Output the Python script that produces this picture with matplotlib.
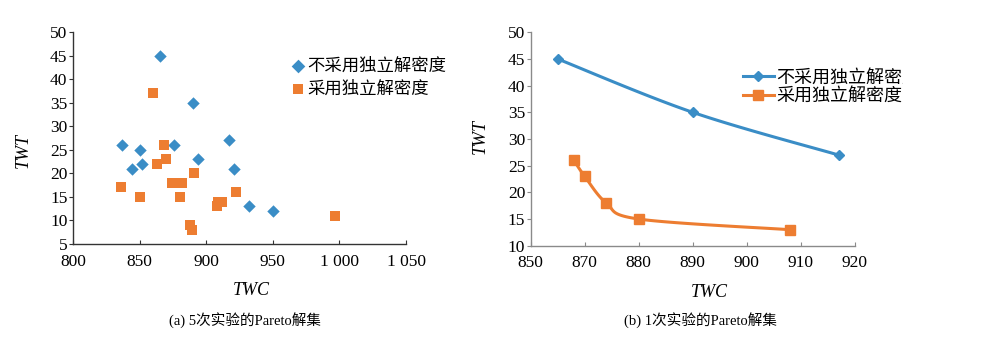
import numpy as np
import matplotlib
matplotlib.use("Agg")
import matplotlib.pyplot as plt
from matplotlib.transforms import Bbox

plt.rcParams["font.family"] = ["Liberation Serif", "Noto Sans CJK SC"]

BLUE = "#3A8DC6"
ORANGE = "#ED7D31"
CJK = ["Noto Sans CJK SC", "DejaVu Sans"]

# (a) Pareto sets of 5 runs
a_plain_twc = [837, 844, 850, 852, 865, 876, 890, 894, 917, 921, 932, 950]
a_plain_twt = [26, 21, 25, 22, 45, 26, 35, 23, 27, 21, 13, 12]
a_dens_twc = [836, 850, 860, 863, 868, 870, 874, 882, 880, 891, 888, 889,
              908, 909, 912, 922, 997]
a_dens_twt = [17, 15, 37, 22, 26, 23, 18, 18, 15, 20, 9, 8, 13, 14, 14, 16, 11]

# (b) Pareto set of 1 run
b_plain_twc = [865, 890, 917]
b_plain_twt = [45, 35, 27]
b_dens_twc = [868, 870, 874, 880, 908]
b_dens_twt = [26, 23, 18, 15, 13]

labels = ["不采用独立解密度", "采用独立解密度"]
a_xticks = [800, 850, 900, 950, 1000, 1050]
a_xticklabels = ["800", "850", "900", "950", "1 000", "1 050"]
b_xticks = [860, 870, 880, 890, 900, 910, 920]
b_xticklabels = ["850", "870", "880", "890", "900", "910", "920"]


def smooth(x, y, xlim, ylim, n=30):
    # bezier smoothing through the points, done in normalized axes space
    x = (np.asarray(x, float) - xlim[0]) / (xlim[1] - xlim[0])
    y = (np.asarray(y, float) - ylim[0]) / (ylim[1] - ylim[0])
    p = np.column_stack([x, y])
    out = []
    for i in range(len(p) - 1):
        p0 = p[i - 1] if i > 0 else p[i]
        p1, p2 = p[i], p[i + 1]
        p3 = p[i + 2] if i + 2 < len(p) else p[i + 1]
        c1 = p1 + (p2 - p0) / 6
        c2 = p2 - (p3 - p1) / 6
        t = np.linspace(0, 1, n)[:, None]
        seg = ((1 - t) ** 3) * p1 + 3 * ((1 - t) ** 2) * t * c1 \
            + 3 * (1 - t) * t ** 2 * c2 + t ** 3 * p2
        out.append(seg)
    s = np.vstack(out)
    return (s[:, 0] * (xlim[1] - xlim[0]) + xlim[0],
            s[:, 1] * (ylim[1] - ylim[0]) + ylim[0])


fig = plt.figure(figsize=(9.87, 3.45), dpi=100)
ax1 = fig.add_axes([0.074, 0.2928, 0.3374, 0.6145])
ax2 = fig.add_axes([0.5377, 0.2878, 0.3283, 0.6186])

# left: scatter
ax1.scatter(a_plain_twc, a_plain_twt, marker="D", s=40, color=BLUE,
            linewidths=0, label=labels[0], zorder=3)
ax1.scatter(a_dens_twc, a_dens_twt, marker="s", s=48, color=ORANGE,
            linewidths=0, label=labels[1], zorder=3)
ax1.set_xlim(800, 1050)
ax1.set_ylim(5, 50)
ax1.set_xticks(a_xticks)
ax1.set_xticklabels(a_xticklabels)
ax1.set_yticks(range(5, 51, 5))
leg1 = ax1.legend(loc="upper left", bbox_to_anchor=(0.63, 0.915), frameon=False,
                  prop={"family": CJK, "size": 12.5}, handletextpad=0.0,
                  labelspacing=0.25, borderaxespad=0, handlelength=1.0,
                  markerscale=1.1)

# right: smoothed lines
xl2, yl2 = (860, 920), (10, 50)
sx, sy = smooth(b_plain_twc, b_plain_twt, xl2, yl2)
ax2.plot(sx, sy, color=BLUE, lw=2.2, zorder=2)
sx, sy = smooth(b_dens_twc, b_dens_twt, xl2, yl2)
ax2.plot(sx, sy, color=ORANGE, lw=2.2, zorder=2)
ax2.plot(b_plain_twc, b_plain_twt, ls="none", marker="D", ms=5.5, color=BLUE,
         mec=BLUE, zorder=3)
ax2.plot(b_dens_twc, b_dens_twt, ls="none", marker="s", ms=6.5, color=ORANGE,
         mec=ORANGE, zorder=3)
h1, = ax2.plot([], [], color=BLUE, lw=2.2, marker="D", ms=5.5, label=labels[0])
h2, = ax2.plot([], [], color=ORANGE, lw=2.2, marker="s", ms=6.5, label=labels[1])
ax2.set_xlim(*xl2)
ax2.set_ylim(*yl2)
ax2.set_xticks(b_xticks)
ax2.set_xticklabels(b_xticklabels)
ax2.set_yticks(range(10, 51, 5))
leg2 = ax2.legend(handles=[h1, h2], loc="upper left", bbox_to_anchor=(0.633, 0.865),
                  frameon=False, prop={"family": CJK, "size": 13},
                  handletextpad=0.15, labelspacing=0.05, borderaxespad=0,
                  handlelength=1.7)

for ax, spc in ((ax1, "#333333"), (ax2, "#8a8a8a")):
    for side in ("top", "right"):
        ax.spines[side].set_visible(False)
    for side in ("left", "bottom"):
        ax.spines[side].set_color(spc)
        ax.spines[side].set_linewidth(1.0)
    ax.tick_params(axis="x", direction="in", length=3, color=spc,
                   labelsize=12.5, pad=7)
    ax.tick_params(axis="y", direction="out", length=3, color=spc,
                   labelsize=12.5, pad=1)
    ax.set_ylabel("TWT", style="italic", fontsize=13)
    ax.set_xlabel("TWC", style="italic", fontsize=13)

ax1.xaxis.set_label_coords(0.536, -0.18)
ax1.yaxis.set_label_coords(-0.125, 0.44)
ax2.xaxis.set_label_coords(0.55, -0.18)
ax2.yaxis.set_label_coords(-0.13, 0.51)

# the chart area ends before the legend text does
for t in leg2.get_texts():
    t.set_clip_box(Bbox([[0, 0], [903, 345]]))
    t.set_clip_on(True)

fig.text(0.248, 0.072, "(a) 5次实验的Pareto解集", ha="center", va="center",
         fontsize=10.5)
fig.text(0.71, 0.072, "(b) 1次实验的Pareto解集", ha="center", va="center",
         fontsize=10.5)

fig.savefig("out.png", dpi=100, facecolor="white")
